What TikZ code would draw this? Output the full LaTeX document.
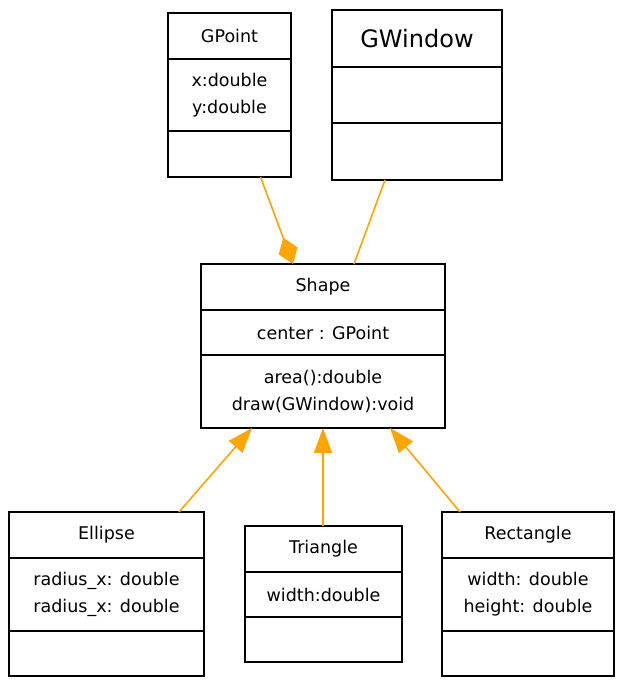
\documentclass[tikz,border=0pt]{standalone}
\usepackage{fontspec}
\setmainfont{DejaVu Sans}
\usetikzlibrary{positioning}
\usetikzlibrary{arrows.meta}
\definecolor{umlorange}{HTML}{FFA500}

\begin{document}
\begin{tikzpicture}[
x=1pt, y=-1pt,
node distance = 0pt,
part/.style={rectangle, draw, line width=1.2pt, outer sep=0pt, inner sep=2pt, align=center, font=\fontsize{17.5}{27}\selectfont},
assoc/.style={draw=umlorange, line width=1.6pt},
inherit/.style={assoc, -{Triangle[length=25pt,width=18pt]}},
compose/.style={assoc, -{Diamond[length=28pt,width=20pt]}}]
\useasboundingbox (0,0) rectangle (625,687);
% top row
\node [part, minimum width=123pt, minimum height=46pt, anchor=north] (gpoint) at (229.5,13) {GPoint};
\node [part, minimum width=123pt, minimum height=72pt] (gpoint attr) [below=of gpoint] {x:double\\y:double};
\node [part, minimum width=123pt, minimum height=46pt] (gpoint ops) [below=of gpoint attr] {};
\node [part, minimum width=170pt, minimum height=57pt, anchor=north, font=\fontsize{24}{27}\selectfont] (gwindow) at (417,10) {GWindow};
\node [part, minimum width=170pt, minimum height=56pt] (gwindow attr) [below=of gwindow] {};
\node [part, minimum width=170pt, minimum height=57pt] (gwindow ops) [below=of gwindow attr] {};
% middle
\node [part, minimum width=244pt, minimum height=46pt, anchor=north] (shape) at (323,264) {Shape};
\node [part, minimum width=244pt, minimum height=45pt] (shape attr) [below=of shape] {center : GPoint};
\node [part, minimum width=244pt, minimum height=73pt] (shape ops) [below=of shape attr] {area():double\\draw(GWindow):void};
% bottom row
\node [part, minimum width=195pt, minimum height=46pt, anchor=north] (ellipse) at (106.5,512) {Ellipse};
\node [part, minimum width=195pt, minimum height=73pt] (ellipse attr) [below=of ellipse] {radius\_x: double\\radius\_x: double};
\node [part, minimum width=195pt, minimum height=45pt] (ellipse ops) [below=of ellipse attr] {};
\node [part, minimum width=157pt, minimum height=46pt, anchor=north] (triangle) at (323.5,526) {Triangle};
\node [part, minimum width=157pt, minimum height=45pt] (triangle attr) [below=of triangle] {width:double};
\node [part, minimum width=157pt, minimum height=45pt] (triangle ops) [below=of triangle attr] {};
\node [part, minimum width=172pt, minimum height=46pt, anchor=north] (rectangle) at (528,512) {Rectangle};
\node [part, minimum width=172pt, minimum height=73pt] (rectangle attr) [below=of rectangle] {width: double\\height: double};
\node [part, minimum width=172pt, minimum height=45pt] (rectangle ops) [below=of rectangle attr] {};
% connectors
\draw [compose] ([xshift=31pt]gpoint ops.south) -- ([xshift=-30pt]shape.north);
\draw [assoc] ([xshift=-32pt]gwindow ops.south) -- ([xshift=31pt]shape.north);
\draw [inherit] ([xshift=72.5pt]ellipse.north) -- ([xshift=-71pt]shape ops.south);
\draw [inherit] ([xshift=-0.5pt]triangle.north) -- (shape ops.south);
\draw [inherit] ([xshift=-68pt]rectangle.north) -- ([xshift=67pt]shape ops.south);
\end{tikzpicture}
\end{document}
